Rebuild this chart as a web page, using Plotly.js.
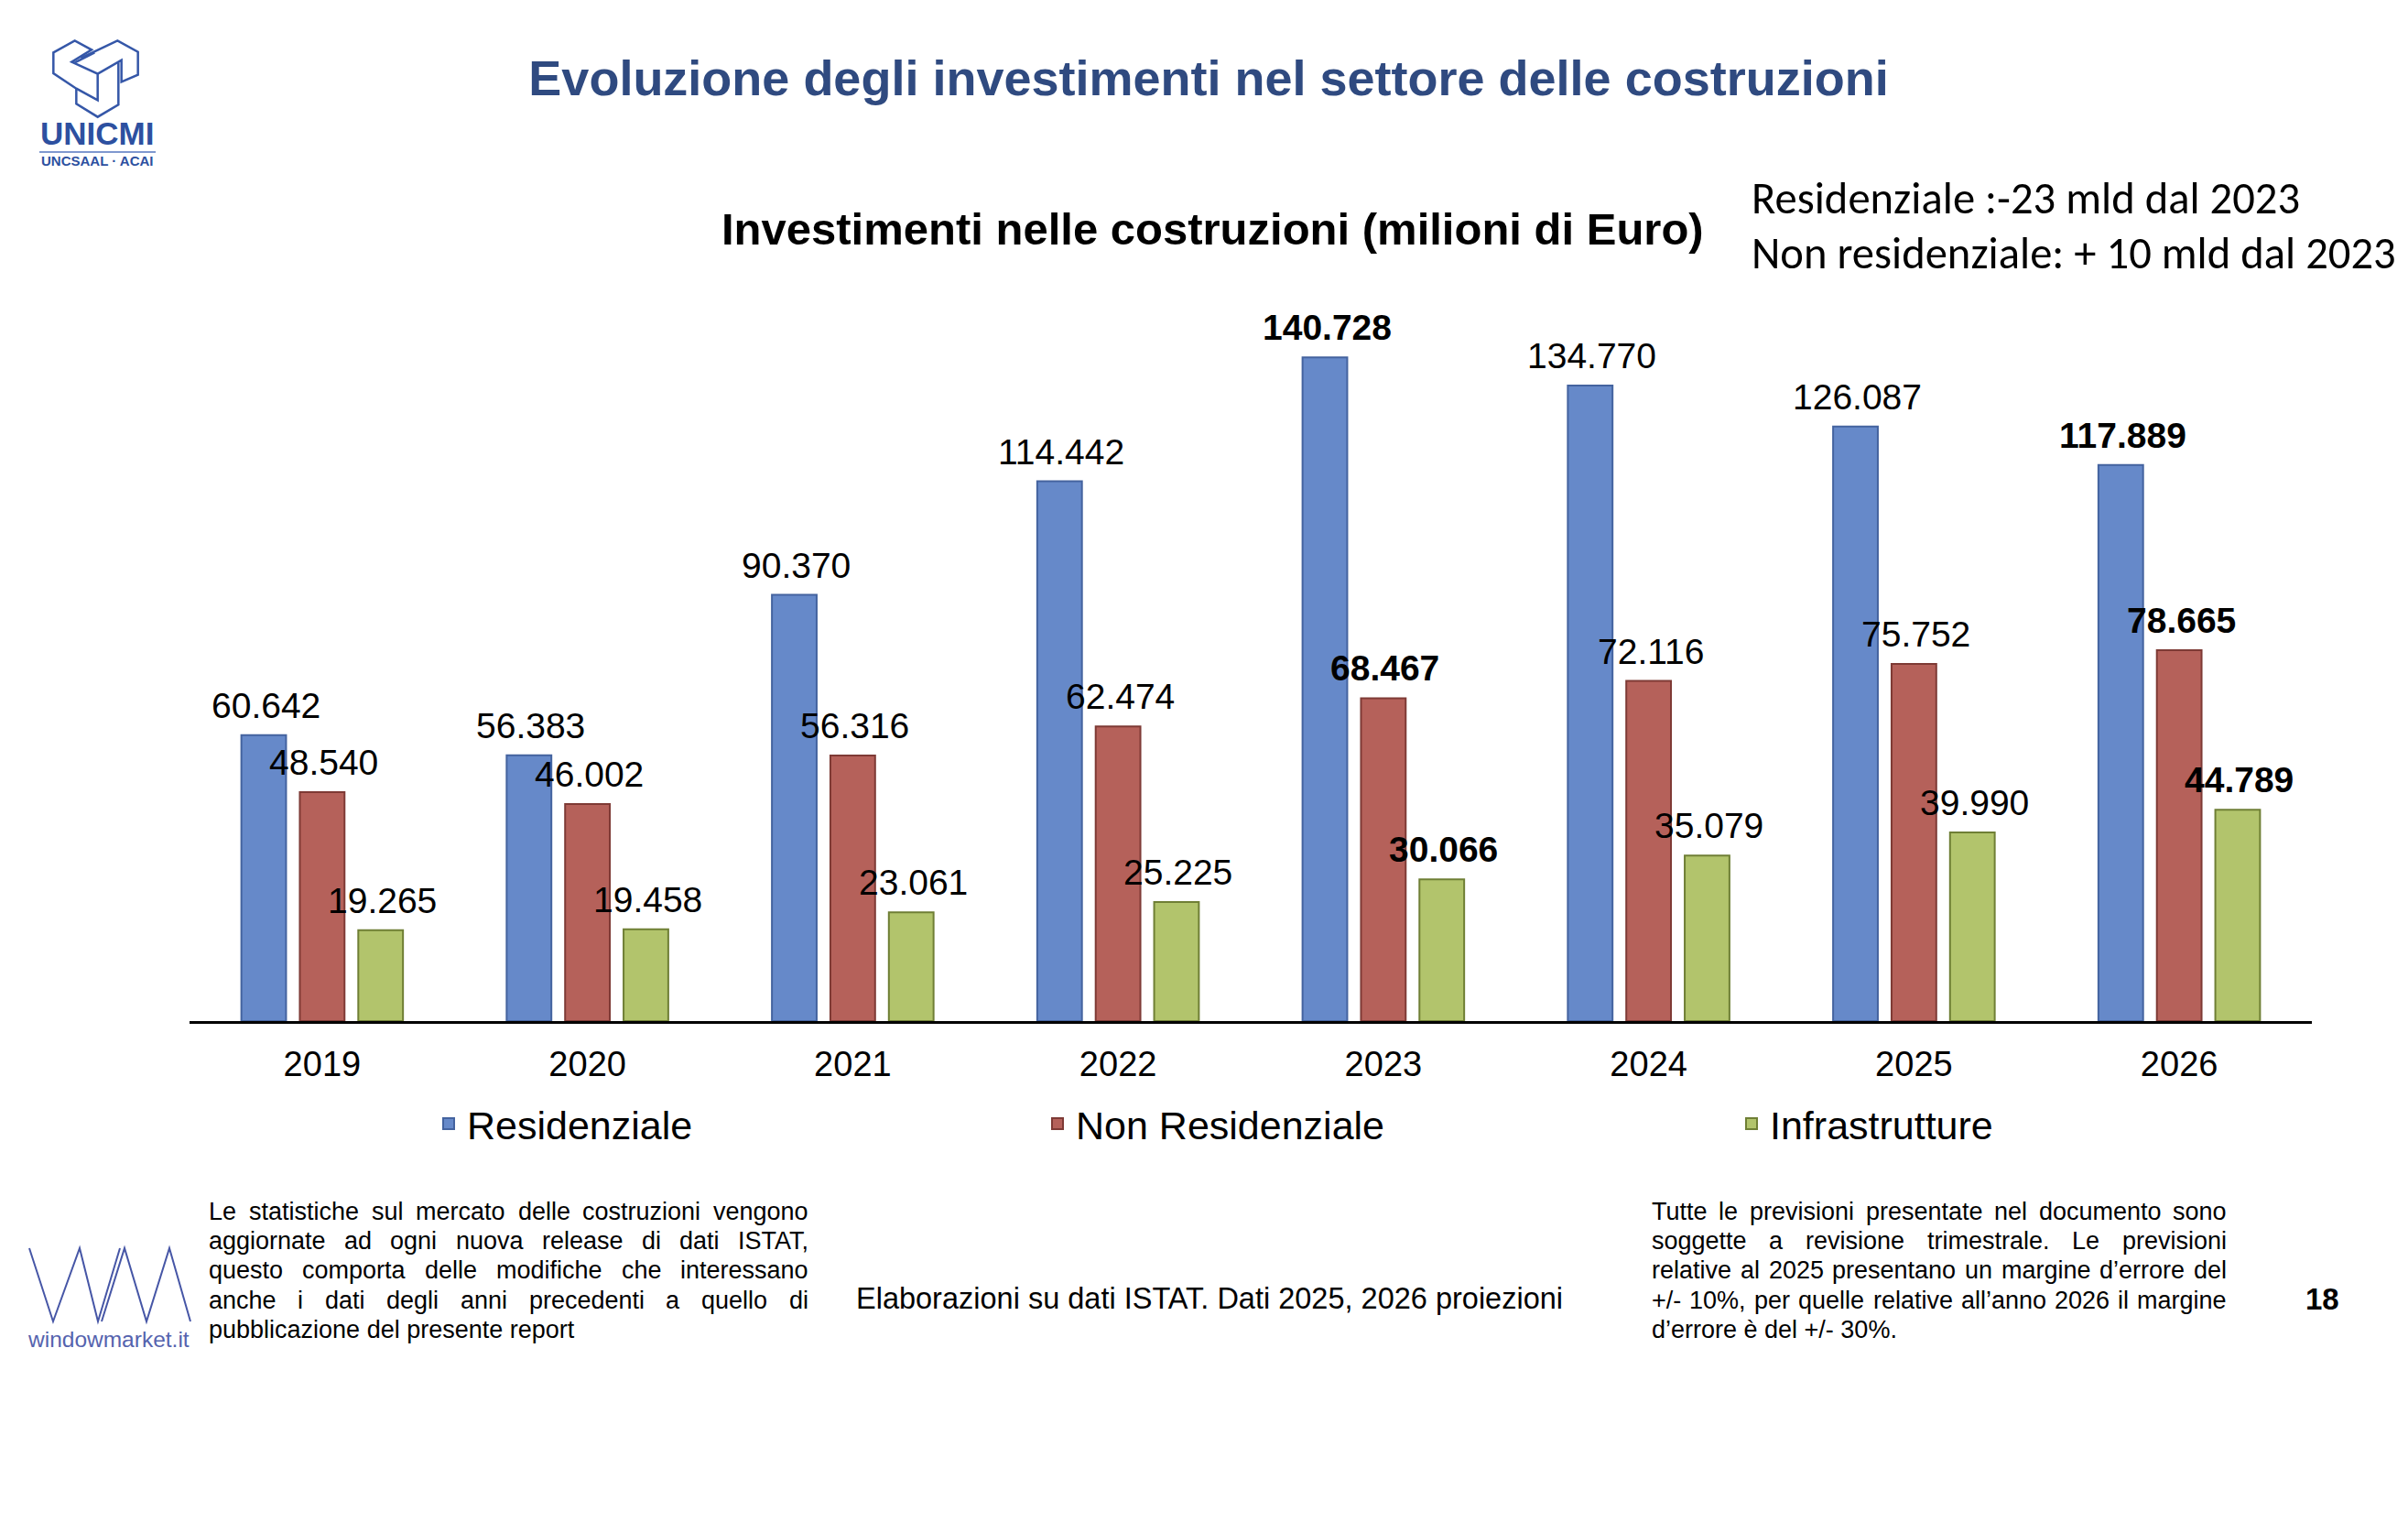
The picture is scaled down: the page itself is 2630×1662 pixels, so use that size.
<!DOCTYPE html>
<html>
<head>
<meta charset="utf-8">
<script src="https://cdn.plot.ly/plotly-3.0.1.min.js"></script>
<style>html,body{margin:0;padding:0;background:#fff;}#chart{width:2630px;height:1662px;}</style>
</head>
<body>
<div id="chart"></div>
<script>
// ---- data ----
const years = ['2019', '2020', '2021', '2022', '2023', '2024', '2025', '2026'];
const residenziale = [60642, 56383, 90370, 114442, 140728, 134770, 126087, 117889];
const nonResidenziale = [48540, 46002, 56316, 62474, 68467, 72116, 75752, 78665];
const infrastrutture = [19265, 19458, 23061, 25225, 30066, 35079, 39990, 44789];
const boldYears = ['2023', '2026'];
const seriesNames = ['Residenziale', 'Non Residenziale', 'Infrastrutture'];

// ---- page geometry ----
const W = 2630, H = 1662;
const ML = 207, MR = 105, MT = 291, MB = 547;
const PW = W - ML - MR, PH = H - MT - MB;
const px = v => (v - ML) / PW;
const py = v => (H - MB - v) / PH;
const BARGAP = 0.339, GROUPGAP = 0.235;

function fmt(v) { return String(v).replace(/\B(?=(\d{3})+(?!\d))/g, '.'); }

const FONT = 'Liberation Sans, Arial, sans-serif';
const colors = ['#6689C9', '#B5615A', '#B2C46C'];
const edge = ['#44639F', '#7E3A35', '#6F7F35'];
const vals = [residenziale, nonResidenziale, infrastrutture];
const legendIds = ['legend', 'legend2', 'legend3'];

const traces = vals.map((arr, k) => ({
  type: 'bar', name: seriesNames[k], x: years, y: arr,
  marker: { color: colors[k], line: { color: edge[k], width: 2 } },
  hoverinfo: 'none', legend: legendIds[k]
}));

const legendBase = { orientation: 'h', yanchor: 'middle', xanchor: 'left', y: py(1227),
  font: { family: FONT, size: 43, color: '#000' }, bgcolor: 'rgba(0,0,0,0)', itemwidth: 30 };

const ann = [];
// value labels above bars (data-driven, placed through the axes; x = category index)
const slotPx = (PW / years.length) * (1 - BARGAP) / vals.length;
vals.forEach((arr, k) => {
  arr.forEach((v, j) => {
    const b = boldYears.includes(years[j]);
    ann.push({ xref: 'x', yref: 'y', x: j, y: v, showarrow: false,
      text: b ? '<b>' + fmt(v) + '</b>' : fmt(v), xanchor: 'center', yanchor: 'bottom',
      xshift: (k - 1) * slotPx + 2, yshift: 9,
      font: { family: FONT, size: 39, color: '#000' } });
  });
});

function addText(text, x, y, size, opts) {
  ann.push(Object.assign({ xref: 'paper', yref: 'paper', x: px(x), y: py(y), text: text, showarrow: false,
    xanchor: 'left', yanchor: 'middle', font: { family: FONT, size: size, color: '#000' } }, opts || {}));
}
// chart subtitle
addText('<b>Investimenti nelle costruzioni (milioni di Euro)</b>', 1324, 250, 49, { xanchor: 'center' });
// right note
const noteFont = { family: 'Carlito, Calibri, Lato, sans-serif', size: 48.6, color: '#000' };
addText('Residenziale :-23 mld dal 2023', 1911, 217, 48.6, { font: noteFont });
addText('Non residenziale: + 10 mld dal 2023', 1911, 277, 48.6, { font: noteFont });

// footers (justified paragraphs)
const leftLines = ['Le statistiche sul mercato delle costruzioni vengono',
  'aggiornate ad ogni nuova release di dati ISTAT,',
  'questo comporta delle modifiche che interessano',
  'anche i dati degli anni precedenti a quello di',
  'pubblicazione del presente report'];
const rightLines = ['Tutte le previsioni presentate nel documento sono',
  'soggette a revisione trimestrale. Le previsioni',
  'relative al 2025 presentano un margine d\u2019errore del',
  '+/- 10%, per quelle relative all\u2019anno 2026 il margine',
  'd\u2019errore è del +/- 30%.'];
const lineY = [1323, 1355, 1387, 1420, 1452];
const FOOT = 27;
const ctx = document.createElement('canvas').getContext('2d');
ctx.font = FOOT + 'px "Liberation Sans", Arial, sans-serif';
function justified(lines, x0, x1) {
  lines.forEach((t, i) => {
    if (i === lines.length - 1) { addText(t, x0, lineY[i], FOOT); return; }
    const words = t.split(/\s+/);
    const ws = words.map(w => ctx.measureText(w).width);
    const total = ws.reduce((a, b) => a + b, 0);
    const gap = (x1 - x0 - total) / (words.length - 1);
    let x = x0;
    words.forEach((w, k) => { addText(w, x, lineY[i], FOOT); x += ws[k] + gap; });
  });
}
justified(leftLines, 226, 881);
justified(rightLines, 1802, 2430);
addText('Elaborazioni su dati ISTAT. Dati 2025, 2026 proiezioni', 1321, 1418, 32.5, { xanchor: 'center' });
addText('<b>18</b>', 2536, 1418, 33, { xanchor: 'center' });
// logos text
addText('<b>UNICMI</b>', 106, 146, 35, { xanchor: 'center', font: { family: FONT, size: 35, color: '#2D50A0' } });
addText('<b>UNCSAAL · ACAI</b>', 106, 175, 15, { xanchor: 'center', font: { family: FONT, size: 15, color: '#2D50A0' } });
addText('windowmarket.it', 118, 1462, 24.5, { xanchor: 'center', font: { family: FONT, size: 24.5, color: '#5563AE' } });

function path(pts, close) {
  return 'M' + pts.map(p => px(p[0]).toFixed(5) + ',' + py(p[1]).toFixed(5)).join(' L') + (close ? ' Z' : '');
}
const z = a => a.map(p => [p[0] / 3, p[1] / 3]);
const logoLine = { color: '#3557A8', width: 2.5 };
const shapes = [
  { type: 'path', xref: 'paper', yref: 'paper', line: logoLine,
    path: path(z([[175,172],[245,133],[300,163],[235,203],[320,242],[320,328],[250,290],[175,240]]), true) },
  { type: 'path', xref: 'paper', yref: 'paper', line: logoLine,
    path: path(z([[265,190],[385,133],[452,170],[452,245],[398,268],[398,197],[320,242]]), false) },
  { type: 'path', xref: 'paper', yref: 'paper', line: logoLine,
    path: path(z([[250,290],[250,340],[320,383],[388,343],[388,205]]), false) },
  { type: 'path', xref: 'paper', yref: 'paper', line: logoLine,
    path: path(z([[245,205],[310,172]]), false) },
  { type: 'line', xref: 'paper', yref: 'paper', x0: px(43), x1: px(170), y0: py(166), y1: py(166),
    line: { color: '#7F98CF', width: 2 } },
  // windowmarket zigzag
  { type: 'path', xref: 'paper', yref: 'paper', line: { color: '#4656A6', width: 2 },
    path: path([[32,1363],[58,1443],[87,1363],[107,1443],[131,1363]], false) },
  { type: 'path', xref: 'paper', yref: 'paper', line: { color: '#4656A6', width: 2 },
    path: path([[111,1443],[136,1363],[160,1443],[185,1363],[208,1443]], false) }
];

const layout = {
  width: W, height: H, paper_bgcolor: '#fff', plot_bgcolor: '#fff',
  margin: { l: ML, r: MR, t: MT, b: MB, pad: 0 },
  title: { text: '<b>Evoluzione degli investimenti nel settore delle costruzioni</b>',
    font: { family: FONT, size: 54, color: '#2F4A80' }, x: 1320 / W, xanchor: 'center',
    y: 1 - 85 / H, yanchor: 'middle', yref: 'container' },
  barmode: 'group', bargap: BARGAP, bargroupgap: GROUPGAP,
  showlegend: true,
  legend: Object.assign({}, legendBase, { x: px(470) }),
  legend2: Object.assign({}, legendBase, { x: px(1135) }),
  legend3: Object.assign({}, legendBase, { x: px(1893) }),
  xaxis: { type: 'category', range: [-0.5, years.length - 0.5], autorange: false,
    showline: true, linecolor: '#000', linewidth: 3, ticks: '', showgrid: false,
    tickfont: { family: FONT, size: 38, color: '#000' }, ticklabelstandoff: 11, zeroline: false },
  yaxis: { visible: false, range: [0, 160000], autorange: false, showgrid: false, zeroline: false },
  annotations: ann, shapes: shapes, hovermode: false
};

Plotly.newPlot('chart', traces, layout, { displayModeBar: false, staticPlot: true });
</script>
</body>
</html>
